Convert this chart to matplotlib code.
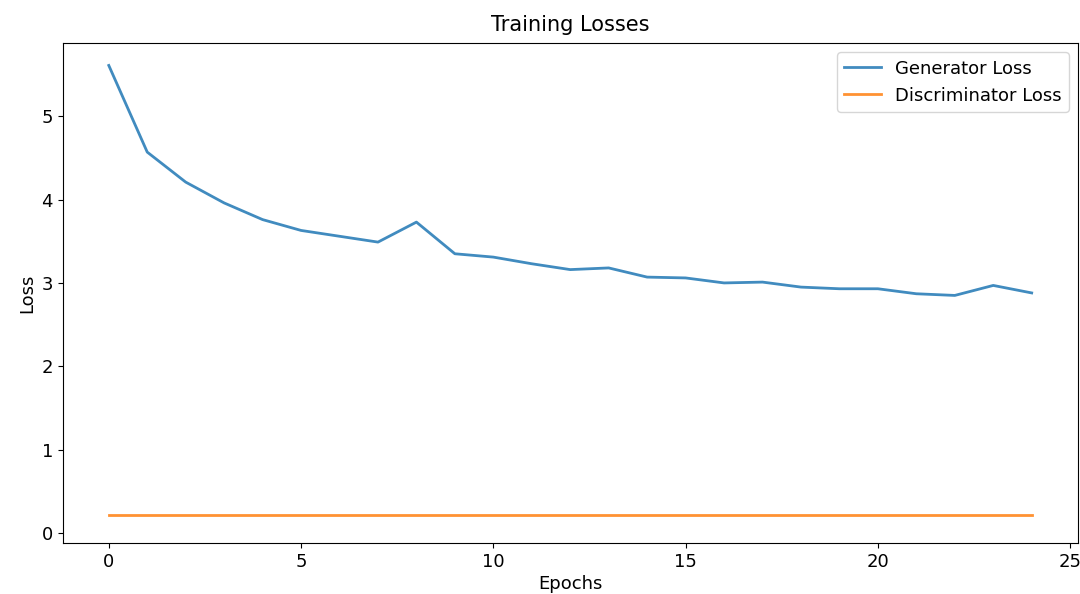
import matplotlib
matplotlib.use("Agg")
import matplotlib.pyplot as plt

epochs = list(range(25))
gen_loss = [5.61, 4.57, 4.21, 3.96, 3.76, 3.63, 3.56, 3.49, 3.73, 3.35,
            3.31, 3.23, 3.16, 3.18, 3.07, 3.06, 3.00, 3.01, 2.95, 2.93,
            2.93, 2.87, 2.85, 2.97, 2.88]
disc_loss = [0.22] * 25

fig, ax = plt.subplots(figsize=(10.8, 5.94), dpi=100)
fig.subplots_adjust(left=0.058, right=0.998, top=0.927, bottom=0.086)

ax.plot(epochs, gen_loss, color="#1f77b4", linewidth=2, alpha=0.85, label="Generator Loss")
ax.plot(epochs, disc_loss, color="#ff7f0e", linewidth=2, alpha=0.85, label="Discriminator Loss")

ax.set_ylim(-0.12, 5.875)
ax.set_title("Training Losses", fontsize=15, pad=9)
ax.set_xlabel("Epochs", fontsize=13, labelpad=3)
ax.set_ylabel("Loss", fontsize=13)
ax.tick_params(labelsize=13)
ax.set_xticks([0, 5, 10, 15, 20, 25])
ax.legend(fontsize=13, loc="upper right")

fig.savefig("out.png", dpi=100)
